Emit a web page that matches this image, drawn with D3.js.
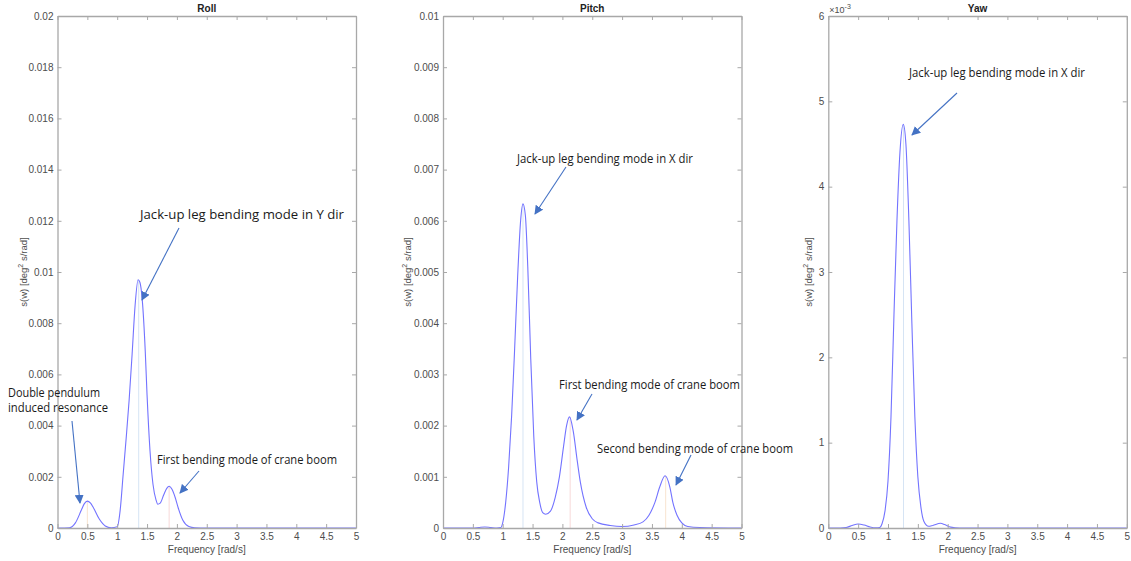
<!DOCTYPE html>
<html>
<head>
<meta charset="utf-8">
<script src="https://cdn.jsdelivr.net/npm/d3@7"></script>
<style>
  body { margin: 0; background: #fff; }
  svg { display: block; }
</style>
</head>
<body>
<svg id="chart" width="1131" height="561"></svg>
<script>
// ---------------- DATA ----------------
const panelTitles = ["Roll", "Pitch", "Yaw"];
const xTicks = [0, 0.5, 1, 1.5, 2, 2.5, 3, 3.5, 4, 4.5, 5];

const rollTicks  = [0, 0.002, 0.004, 0.006, 0.008, 0.01, 0.012, 0.014, 0.016, 0.018, 0.02];
const pitchTicks = [0, 0.001, 0.002, 0.003, 0.004, 0.005, 0.006, 0.007, 0.008, 0.009, 0.01];
const yawTicks   = [0, 0.001, 0.002, 0.003, 0.004, 0.005, 0.006];

const rollFreq = [0, 0.2, 0.3, 0.4, 0.45, 0.5, 0.55, 0.6, 0.7, 0.8, 0.9, 1.0, 1.05, 1.1, 1.15, 1.2, 1.25, 1.3, 1.35, 1.38, 1.42, 1.47, 1.5, 1.55, 1.6, 1.65, 1.68, 1.72, 1.78, 1.83, 1.87, 1.92, 1.97, 2.02, 2.1, 2.2, 2.3, 2.5, 5];
const rollVals = [0, 0.00001, 0.0002, 0.0007, 0.00095, 0.00105, 0.00098, 0.0008, 0.00035, 0.00008, 0.00001, 0.00005, 0.0007, 0.0021, 0.0035, 0.005, 0.0068, 0.0087, 0.0097, 0.0096, 0.0089, 0.0069, 0.0052, 0.003, 0.0017, 0.0011, 0.00093, 0.00097, 0.0013, 0.00155, 0.00163, 0.0015, 0.0012, 0.0008, 0.0003, 0.00006, 0.00001, 0, 0];
const rollMarks = [0.5, 1.36, 1.87];
const rollMarkVals = [0.00105, 0.0097, 0.00163];

const pitchFreq = [0, 0.5, 0.6, 0.7, 0.8, 0.9, 0.97, 1.0, 1.05, 1.1, 1.15, 1.2, 1.25, 1.3, 1.34, 1.38, 1.42, 1.47, 1.52, 1.57, 1.62, 1.67, 1.72, 1.8, 1.88, 1.95, 2.02, 2.07, 2.12, 2.18, 2.25, 2.3, 2.4, 2.5, 2.6, 2.8, 3.0, 3.2, 3.35, 3.45, 3.55, 3.63, 3.72, 3.8, 3.85, 3.92, 4.0, 4.1, 4.3, 5];
const pitchVals = [0, 0, 0.00001, 0.00002, 0.00001, 0, 0.00001, 0.0001, 0.0005, 0.0012, 0.0022, 0.0035, 0.0049, 0.006, 0.00633, 0.0061, 0.0051, 0.0033, 0.0018, 0.0009, 0.0005, 0.0003, 0.00027, 0.00033, 0.0006, 0.001, 0.0016, 0.002, 0.00217, 0.0019, 0.0013, 0.0009, 0.0004, 0.00018, 0.0001, 0.00005, 0.00003, 0.00006, 0.00012, 0.00025, 0.0005, 0.0008, 0.00102, 0.0008, 0.0005, 0.00025, 0.0001, 0.00003, 0.00001, 0];
const pitchMarks = [1.34, 2.13, 3.73];
const pitchMarkVals = [0.00633, 0.00216, 0.00102];

const yawFreq = [0, 0.2, 0.3, 0.4, 0.5, 0.6, 0.7, 0.8, 0.86, 0.9, 0.95, 1.0, 1.05, 1.1, 1.15, 1.2, 1.256, 1.3, 1.35, 1.4, 1.45, 1.5, 1.55, 1.6, 1.68, 1.75, 1.88, 1.95, 2.05, 2.2, 5];
const yawVals = [0, 0, 0.000005, 0.00003, 0.000047, 0.000035, 0.000012, 0.000002, 0.000005, 0.00005, 0.0002, 0.00055, 0.0013, 0.0025, 0.0036, 0.0044, 0.00473, 0.0045, 0.0036, 0.0024, 0.0013, 0.0006, 0.00025, 0.00008, 0.00002, 0.00003, 0.000055, 0.00004, 0.00001, 0, 0];
const yawMarks = [1.26];
const yawMarkVals = [0.00473];

// ---------------- DRAWING ----------------
const svg = d3.select("#chart");
const axisFont = "Liberation Sans, Arial, sans-serif";
const noteFont = "Open Sans, Noto Sans, sans-serif";
const curveColor = "#7373ff";
const boxColor = "#a8a8a8";
const tickText = "#4d4d4d";
const arrowColor = "#4472c4";
const markBlue = "#d6e4f4", markRed = "#f7d9d9", markOrange = "#f8e4d0";

svg.append("defs").append("marker")
  .attr("id", "ah").attr("viewBox", "0 0 10 10").attr("refX", 9).attr("refY", 5)
  .attr("markerWidth", 9).attr("markerHeight", 9).attr("markerUnits", "userSpaceOnUse")
  .attr("orient", "auto")
  .append("path").attr("d", "M0,0 L10,5 L0,10 z").attr("fill", arrowColor);

const panels = [
  { title: panelTitles[0], left: 57.5, freq: rollFreq, vals: rollVals, ymax: 0.02, ticks: rollTicks, fmt: d => d3.format("~g")(d), marks: rollMarks, markVals: rollMarkVals, markColors: [markOrange, markBlue, markRed], ylabX: 27 },
  { title: panelTitles[1], left: 443, freq: pitchFreq, vals: pitchVals, ymax: 0.01, ticks: pitchTicks, fmt: d => d3.format("~g")(d), marks: pitchMarks, markVals: pitchMarkVals, markColors: [markBlue, markRed, markOrange], ylabX: 411 },
  { title: panelTitles[2], left: 828.3, freq: yawFreq, vals: yawVals, ymax: 0.006, ticks: yawTicks, fmt: d => d3.format("~g")(Math.round(d * 1e3 * 1000) / 1000), marks: yawMarks, markVals: yawMarkVals, markColors: [markBlue], ylabX: 812, exponent: true }
];

const plotTop = 16, plotBottom = 528, pw = 298.5;

panels.forEach(p => {
  const x = d3.scaleLinear().domain([0, 5]).range([p.left, p.left + pw]);
  const y = d3.scaleLinear().domain([0, p.ymax]).range([plotBottom, plotTop]);
  const g = svg.append("g");

  // marker lines
  p.marks.forEach((m, i) => {
    g.append("line").attr("x1", x(m)).attr("x2", x(m)).attr("y1", y(0)).attr("y2", y(p.markVals[i]))
      .attr("stroke", p.markColors[i]).attr("stroke-width", 1);
  });

  // curve
  const pts = p.freq.map((f, i) => [f, p.vals[i]]);
  g.append("path").datum(pts)
    .attr("d", d3.line().x(d => x(d[0])).y(d => y(d[1])).curve(d3.curveMonotoneX))
    .attr("fill", "none").attr("stroke", curveColor).attr("stroke-width", 1.1);

  // axes
  const styleAxis = sel => {
    sel.selectAll(".domain").attr("stroke", boxColor).attr("stroke-width", 1.3);
    sel.selectAll(".tick line").attr("stroke", boxColor);
    sel.selectAll(".tick text").attr("fill", tickText).style("font-family", axisFont).style("font-size", "10px");
  };
  g.append("g").attr("transform", `translate(0,${plotBottom})`)
    .call(d3.axisBottom(x).tickValues(xTicks).tickSize(-4).tickSizeOuter(0).tickPadding(5).tickFormat(d3.format("~g")))
    .call(styleAxis);
  g.append("g").attr("transform", `translate(0,${plotTop})`)
    .call(d3.axisTop(x).tickValues(xTicks).tickSize(-4).tickSizeOuter(0).tickFormat(""))
    .call(styleAxis);
  g.append("g").attr("transform", `translate(${p.left},0)`)
    .call(d3.axisLeft(y).tickValues(p.ticks).tickSize(-4).tickSizeOuter(0).tickPadding(4).tickFormat(p.fmt))
    .call(styleAxis);
  g.append("g").attr("transform", `translate(${p.left + pw},0)`)
    .call(d3.axisRight(y).tickValues(p.ticks).tickSize(-4).tickSizeOuter(0).tickFormat(""))
    .call(styleAxis);

  // title
  g.append("text").attr("x", p.left + pw / 2).attr("y", 12).attr("text-anchor", "middle")
    .style("font-family", axisFont).style("font-size", "10px").style("font-weight", "bold").attr("fill", "#222")
    .text(p.title);

  // x label
  g.append("text").attr("x", p.left + pw / 2).attr("y", 553).attr("text-anchor", "middle")
    .style("font-family", axisFont).style("font-size", "10px").attr("fill", tickText)
    .text("Frequency [rad/s]");

  // y label
  const yl = g.append("text").attr("transform", `translate(${p.ylabX},${(plotTop + plotBottom) / 2}) rotate(-90)`)
    .attr("text-anchor", "middle").style("font-family", axisFont).style("font-size", "9.5px").attr("fill", tickText);
  yl.append("tspan").text("s(w) [deg");
  yl.append("tspan").attr("dy", -4).style("font-size", "7px").text("2");
  yl.append("tspan").attr("dy", 4).text(" s/rad]");

  if (p.exponent) {
    const ex = g.append("text").attr("x", p.left + 1).attr("y", 13)
      .style("font-family", axisFont).style("font-size", "9px").attr("fill", tickText);
    ex.append("tspan").text("\u00d710");
    ex.append("tspan").attr("dy", -4).style("font-size", "7px").text("-3");
  }
});

// ---------------- ANNOTATIONS ----------------
const notes = [
  { lines: ["Jack-up leg bending mode in Y dir"], x: 140, y: 219, w: 204, from: [179, 228], to: [142, 300] },
  { lines: ["Double pendulum", "induced resonance"], x: 8, y: 397, w: 100, widths: [92, 100], from: [72, 421], to: [80, 503] },
  { lines: ["First bending mode of crane boom"], x: 157, y: 464, w: 180, from: [199, 471], to: [180, 493] },
  { lines: ["Jack-up leg bending mode in X dir"], x: 517, y: 163, w: 176, from: [566, 167], to: [535, 214] },
  { lines: ["First bending mode of crane boom"], x: 559, y: 389, w: 181, from: [592, 394], to: [577, 420] },
  { lines: ["Second bending mode of crane boom"], x: 597, y: 453, w: 196, from: [691, 455], to: [676, 485] },
  { lines: ["Jack-up leg bending mode in X dir"], x: 909, y: 77, w: 176, from: [957, 93], to: [912, 135] }
];

notes.forEach(n => {
  n.lines.forEach((t, i) => {
    svg.append("text").attr("x", n.x).attr("y", n.y + i * 15)
      .attr("textLength", n.widths ? n.widths[i] : n.w).attr("lengthAdjust", "spacingAndGlyphs")
      .style("font-family", noteFont).style("font-size", "12.5px").attr("fill", "#1a1a1a")
      .text(t);
  });
  svg.append("line").attr("x1", n.from[0]).attr("y1", n.from[1]).attr("x2", n.to[0]).attr("y2", n.to[1])
    .attr("stroke", arrowColor).attr("stroke-width", 1.1).attr("marker-end", "url(#ah)");
});
</script>
</body>
</html>
